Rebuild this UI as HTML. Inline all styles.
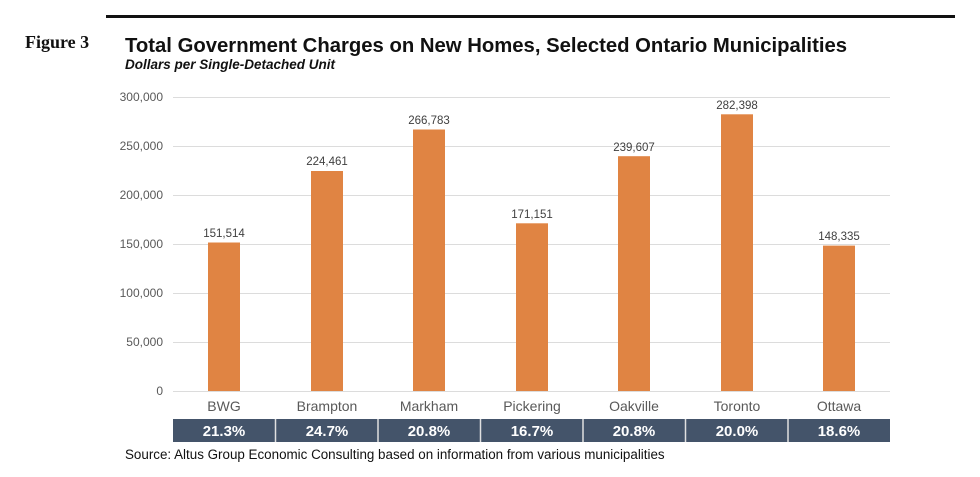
<!DOCTYPE html>
<html><head><meta charset="utf-8"><style>
body{margin:0;background:#fff;width:980px;height:472px;overflow:hidden;font-family:"Liberation Sans",sans-serif}
</style></head><body>
<svg width="980" height="472" xmlns="http://www.w3.org/2000/svg" font-family="Liberation Sans, sans-serif">
<rect x="106" y="15" width="849" height="3" fill="#111"/>
<text x="25" y="48" font-family="Liberation Serif, serif" font-weight="bold" font-size="18" fill="#111">Figure 3</text>
<text x="125" y="52" font-weight="bold" font-size="20.3" fill="#111">Total Government Charges on New Homes, Selected Ontario Municipalities</text>
<text x="125" y="69" font-weight="bold" font-style="italic" font-size="13.5" fill="#111">Dollars per Single-Detached Unit</text>
<g stroke="#dcdcdc" stroke-width="1">
<line x1="173" x2="890" y1="97.5" y2="97.5"/><line x1="173" x2="890" y1="146.5" y2="146.5"/>
<line x1="173" x2="890" y1="195.5" y2="195.5"/><line x1="173" x2="890" y1="244.5" y2="244.5"/>
<line x1="173" x2="890" y1="293.5" y2="293.5"/><line x1="173" x2="890" y1="342.5" y2="342.5"/>
<line x1="173" x2="890" y1="391.5" y2="391.5"/>
</g>
<g font-size="12" fill="#595959" text-anchor="end">
<text x="163" y="101">300,000</text><text x="163" y="150">250,000</text><text x="163" y="199">200,000</text>
<text x="163" y="248">150,000</text><text x="163" y="297">100,000</text><text x="163" y="346">50,000</text><text x="163" y="395">0</text>
</g>
<g fill="#e08443">
<rect x="208" y="242.5" width="32" height="148.5"/>
<rect x="311" y="171" width="32" height="220"/>
<rect x="413" y="129.5" width="32" height="261.5"/>
<rect x="516" y="223.3" width="32" height="167.7"/>
<rect x="618" y="156.2" width="32" height="234.8"/>
<rect x="721" y="114.3" width="32" height="276.7"/>
<rect x="823" y="245.6" width="32" height="145.4"/>
</g>
<g font-size="11.5" fill="#404040" text-anchor="middle">
<text x="224" y="237">151,514</text><text x="327" y="165">224,461</text><text x="429" y="124">266,783</text>
<text x="532" y="218">171,151</text><text x="634" y="151">239,607</text><text x="737" y="109">282,398</text><text x="839" y="240">148,335</text>
</g>
<g font-size="14" fill="#595959" text-anchor="middle">
<text x="224" y="411">BWG</text><text x="327" y="411">Brampton</text><text x="429" y="411">Markham</text>
<text x="532" y="411">Pickering</text><text x="634" y="411">Oakville</text><text x="737" y="411">Toronto</text><text x="839" y="411">Ottawa</text>
</g>
<rect x="173" y="419" width="717" height="23" fill="#44546a"/>
<g stroke="#e0e0e0" stroke-width="1.5">
<line x1="275.5" x2="275.5" y1="419" y2="442"/><line x1="378" x2="378" y1="419" y2="442"/>
<line x1="480.5" x2="480.5" y1="419" y2="442"/><line x1="583" x2="583" y1="419" y2="442"/>
<line x1="685.5" x2="685.5" y1="419" y2="442"/><line x1="788" x2="788" y1="419" y2="442"/>
</g>
<g font-size="15" font-weight="bold" fill="#fff" text-anchor="middle">
<text x="224" y="436">21.3%</text><text x="327" y="436">24.7%</text><text x="429" y="436">20.8%</text>
<text x="532" y="436">16.7%</text><text x="634" y="436">20.8%</text><text x="737" y="436">20.0%</text><text x="839" y="436">18.6%</text>
</g>
<text x="125" y="459" font-size="13.4" fill="#111">Source: Altus Group Economic Consulting based on information from various municipalities</text>
</svg>
</body></html>
